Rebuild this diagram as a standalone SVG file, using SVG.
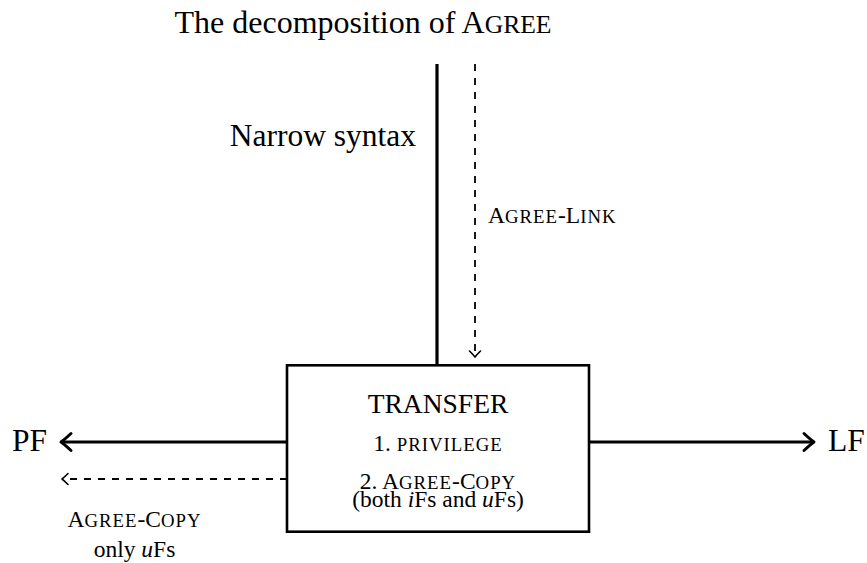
<svg xmlns="http://www.w3.org/2000/svg" width="867" height="563" viewBox="0 0 867 563">
  <style>
    text { font-family: "Liberation Serif", "Times New Roman", serif; fill: #000; }
    .big { font-size: 31.5px; }
    .body { font-size: 23.5px; }
    .sc { font-size: 18.8px; letter-spacing: 1px; }
    .it { font-style: italic; }
    .solid { stroke: #000; stroke-width: 3.2; fill: none; }
    .dash { stroke: #000; stroke-width: 1.8; fill: none; stroke-dasharray: 7 7; }
    .box { stroke: #000; stroke-width: 2.6; fill: #fff; }
  </style>
  <defs>
    <marker id="tipThick" markerUnits="userSpaceOnUse" viewBox="-13 -11 15 22" markerWidth="15" markerHeight="22" refX="0" refY="0" orient="auto" overflow="visible">
      <path d="M -10,-8.5 Q -3,-2 0,0 Q -3,2 -10,8.5" fill="none" stroke="#000" stroke-width="3" stroke-linecap="round" stroke-linejoin="round"/>
    </marker>
    <marker id="tipThin" markerUnits="userSpaceOnUse" viewBox="-8 -8 10 16" markerWidth="10" markerHeight="16" refX="0" refY="0" orient="auto" overflow="visible">
      <path d="M -6,-5.5 Q -2,-1.5 0,0 Q -2,1.5 -6,5.5" fill="none" stroke="#000" stroke-width="1.6" stroke-linecap="round" stroke-linejoin="round"/>
    </marker>
  </defs>

  <g id="title">
    <text x="363" y="33" text-anchor="middle" style="font-size:32px">The decomposition of A<tspan style="font-size:25.6px">GREE</tspan></text>
  </g>

  <g id="narrow-syntax">
    <text class="big" x="416" y="146" text-anchor="end">Narrow syntax</text>
  </g>

  <g id="connectors">
    <line class="solid" x1="437" y1="64" x2="437" y2="365"/>
    <line class="dash" x1="475" y1="64" x2="475" y2="357" marker-end="url(#tipThin)"/>
    <line class="solid" x1="287" y1="442" x2="61" y2="442" marker-end="url(#tipThick)"/>
    <line class="solid" x1="589" y1="442" x2="814" y2="442" marker-end="url(#tipThick)"/>
    <line class="dash" x1="287" y1="479" x2="62" y2="479" marker-end="url(#tipThin)"/>
  </g>

  <g id="agree-link-label">
    <text class="body" x="488" y="223">A<tspan class="sc">GREE</tspan>-L<tspan class="sc">INK</tspan></text>
  </g>

  <g id="transfer">
    <rect class="box" x="287" y="365.3" width="302" height="166.4"/>
    <text x="438" y="413" text-anchor="middle" style="font-size:27.5px">TRANSFER</text>
    <text class="body" x="438" y="451" text-anchor="middle">1. <tspan class="sc">PRIVILEGE</tspan></text>
    <text class="body" x="438" y="489" text-anchor="middle">2. A<tspan class="sc">GREE</tspan>-C<tspan class="sc">OPY</tspan></text>
    <text class="body" x="438" y="506.5" text-anchor="middle">(both <tspan class="it">i</tspan>Fs and <tspan class="it">u</tspan>Fs)</text>
  </g>

  <g id="pf">
    <text class="big" x="12" y="451">PF</text>
  </g>

  <g id="lf">
    <text class="big" x="828" y="451">LF</text>
  </g>

  <g id="agree-copy-label">
    <text class="body" x="134.5" y="527" text-anchor="middle">A<tspan class="sc">GREE</tspan>-C<tspan class="sc">OPY</tspan></text>
    <text class="body" x="134.5" y="557" text-anchor="middle">only <tspan class="it">u</tspan>Fs</text>
  </g>
</svg>
